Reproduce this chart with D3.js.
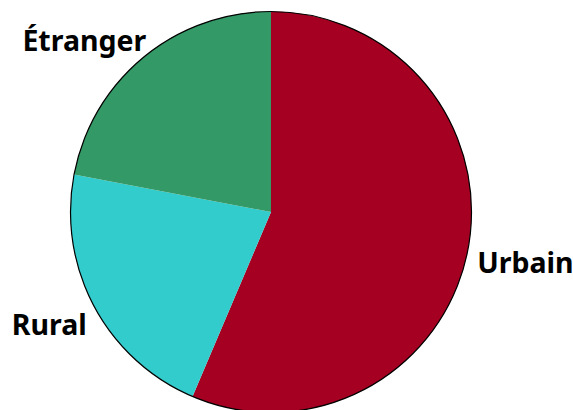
<!DOCTYPE html>
<html>
<head>
<meta charset="utf-8">
<script src="https://cdn.jsdelivr.net/npm/d3@7"></script>
<style>
  body { margin: 0; background: #fff; }
</style>
</head>
<body>
<div id="wrapper"></div>
<script>
// data
const categories = ["Urbain", "Rural", "Étranger"]
const values = [56.4, 21.6, 22.0]
const colors = ["#a50021", "#33cccc", "#339966"]

function drawPie() {
  const dimensions = { width: 573, height: 410 }
  const center = { x: 271, y: 212 }
  const radius = 200.5

  const dataset = categories.map((c, i) => ({ name: c, value: values[i], color: colors[i] }))

  const wrapper = d3.select("#wrapper")
    .append("svg")
      .attr("width", dimensions.width)
      .attr("height", dimensions.height)

  const bounds = wrapper.append("g")
    .attr("transform", `translate(${center.x}, ${center.y})`)

  const pie = d3.pie()
    .value(d => d.value)
    .sort(null)

  const arc = d3.arc()
    .innerRadius(0)
    .outerRadius(radius)

  const arcs = pie(dataset)

  bounds.selectAll(".slice")
    .data(arcs)
    .join("path")
      .attr("class", "slice")
      .attr("d", arc)
      .attr("fill", d => d.data.color)

  // outline round the pie only
  bounds.append("circle")
    .attr("r", radius)
    .attr("fill", "none")
    .attr("stroke", "#000")
    .attr("stroke-width", 1.2)

  // labels outside the pie
  const labelArc = d3.arc()
    .innerRadius(radius + 14)
    .outerRadius(radius + 14)

  const nudge = { "Urbain": [-4, 8], "Rural": [5, 12], "Étranger": [12, -6] }

  bounds.selectAll(".label")
    .data(arcs)
    .join("text")
      .attr("class", "label")
      .attr("transform", d => {
        const [x, y] = labelArc.centroid(d)
        const [nx, ny] = nudge[d.data.name]
        return `translate(${x + nx}, ${y + ny})`
      })
      .attr("text-anchor", d => (d.startAngle + d.endAngle) / 2 < Math.PI ? "start" : "end")
      .attr("dy", "0.35em")
      .style("font-family", "'Noto Sans', sans-serif")
      .style("font-weight", 700)
      .style("font-size", "28.5px")
      .attr("fill", "#000")
      .text(d => d.data.name)
}

drawPie()
</script>
</body>
</html>
